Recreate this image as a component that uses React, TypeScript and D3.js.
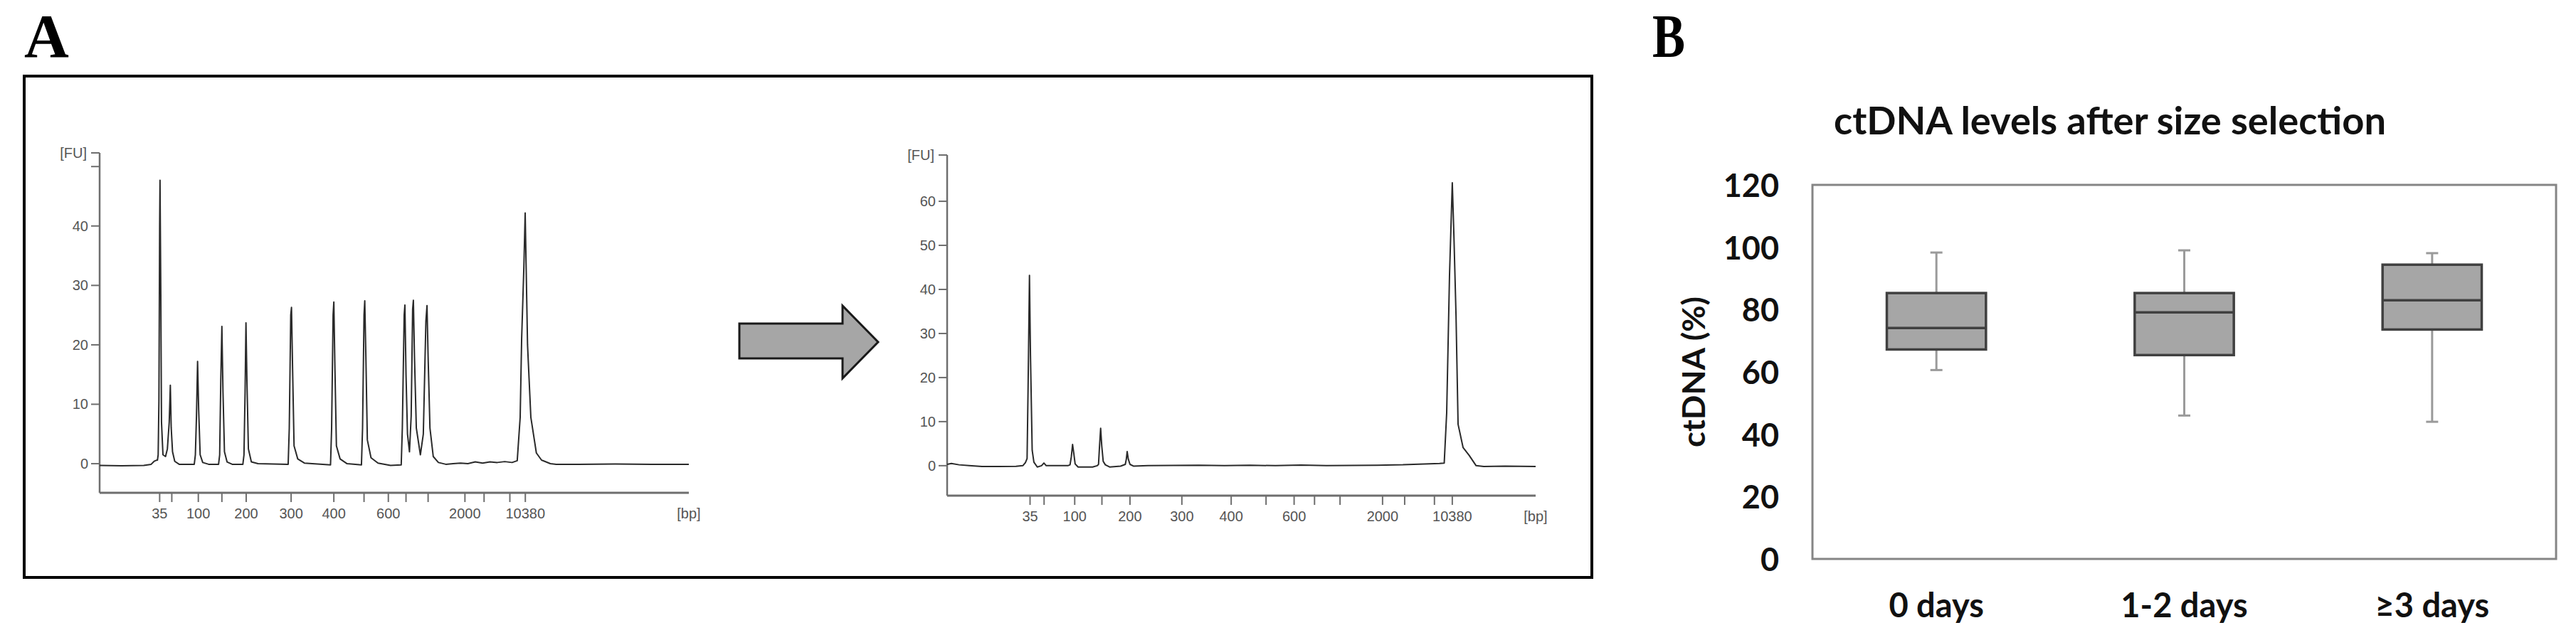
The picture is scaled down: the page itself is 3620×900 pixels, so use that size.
import React from "react";
import * as d3 from "d3";

// ---------- Panel A data (Bioanalyzer electropherograms) ----------
const ladderBp = [35, 50, 100, 150, 200, 300, 400, 500, 600, 700, 1000, 2000, 3000, 7000, 10380];
// migration time (s) of each ladder size
const ladderTime = [48.15, 49.8, 53.4, 56.6, 59.9, 66.0, 71.8, 75.9, 79.2, 81.6, 84.6, 89.6, 92.2, 95.7, 97.8];
const ladderLabels = ["35", "100", "200", "300", "400", "600", "2000", "10380"];

// trace before size selection: [time s, FU]
const beforeTrace: [number, number][] = [
  [40, -0.3], [43, -0.35], [46, -0.3], [47.0, -0.1], [47.4, 0.4], [47.75, 0.6], [47.85, 0.6],
  [47.95, 1.5], [48.05, 10.5], [48.15, 40], [48.2, 47.7], [48.3, 30], [48.4, 7], [48.6, 1.5], [48.95, 1.2],
  [49.2, 2.5], [49.45, 7], [49.6, 13.2], [49.72, 6], [49.9, 2], [50.2, 0.4], [50.8, -0.1],
  [52.85, -0.1], [53.0, 1.5], [53.15, 8], [53.3, 17.2], [53.45, 9], [53.65, 1.5], [54.0, 0.2], [54.8, -0.1],
  [56.15, -0.1], [56.3, 1.5], [56.45, 14], [56.6, 23.1], [56.75, 12], [56.95, 2], [57.3, 0.3], [58.0, -0.1],
  [59.45, -0.1], [59.6, 1.5], [59.75, 12], [59.87, 23.7], [60.0, 14], [60.2, 2.5], [60.6, 0.3], [61.5, 0],
  [65.6, -0.1], [65.75, 6], [65.95, 25], [66.05, 26.3], [66.2, 16], [66.4, 3], [66.9, 0.8], [67.8, 0.1],
  [71.35, -0.2], [71.5, 6], [71.7, 25], [71.8, 27.2], [71.95, 16], [72.15, 3], [72.65, 0.8], [73.6, 0],
  [75.55, -0.2], [75.7, 6], [75.9, 25], [76.0, 27.4], [76.15, 18], [76.35, 4], [76.85, 1], [77.8, 0.1], [79.5, -0.3],
  [80.95, -0.2], [81.1, 6], [81.35, 25], [81.45, 26.7], [81.6, 15], [81.8, 5], [82.07, 2.0],
  [82.3, 8], [82.5, 26], [82.6, 27.5], [82.75, 18], [83.0, 6], [83.55, 1.5],
  [83.95, 5], [84.3, 24], [84.45, 26.6], [84.6, 18], [84.85, 6], [85.3, 1.2], [86.0, 0.2], [87, -0.1],
  [88, 0], [89, 0.1], [90, 0.0], [91, 0.3], [92, 0.1], [93, 0.3], [94, 0.2], [95, 0.35], [96.0, 0.2], [96.7, 0.5],
  [97.1, 7.8], [97.3, 21], [97.6, 33], [97.78, 42.2], [98.1, 20], [98.55, 7.8], [99.3, 1.8], [100.0, 0.6],
  [101.2, 0.0], [102, -0.1], [105, -0.1], [110, -0.05], [115, -0.1], [120, -0.1],
];

// trace after size selection: [time s, FU]
const afterTrace: [number, number][] = [
  [38.4, 0.3], [38.9, 0.5], [39.8, 0.2], [41.0, 0.0], [42.5, -0.2], [44.5, -0.2], [46.5, -0.15], [47.3, 0.0], [47.6, 0.7],
  [47.8, 1.6], [47.93, 19.5], [48.08, 43.2], [48.2, 25], [48.4, 3.5], [48.6, 0.8], [49.0, -0.3],
  [49.5, 0], [49.78, 0.6], [50.05, 0], [51.5, 0], [52.6, 0],
  [52.85, 0.2], [53.0, 2], [53.15, 4.8], [53.28, 3], [53.45, 0.4], [53.8, -0.3], [55.5, -0.3], [56.05, 0],
  [56.2, 0.3], [56.32, 4.5], [56.45, 8.5], [56.58, 4.5], [56.75, 1], [57.0, 0.2], [57.5, -0.3], [58.8, -0.1],
  [59.35, 0.3], [59.47, 1.5], [59.57, 3.2], [59.7, 1.5], [59.9, 0.3], [60.3, -0.1],
  [62, 0], [65, 0.05], [68, 0.1], [71, 0.0], [74, 0.1], [77, 0.0], [80, 0.15], [83, 0.0], [86, 0.05],
  [89, 0.1], [92, 0.2], [94.5, 0.4], [96.3, 0.5], [96.85, 0.6],
  [97.14, 12], [97.47, 43], [97.8, 64.2], [98.0, 51.5], [98.24, 34], [98.48, 9.4], [99.07, 4.1], [99.8, 2.3],
  [100.6, 0], [101.5, -0.2], [104, -0.1], [107.6, -0.2],
];

const beforeYTicks = [0, 10, 20, 30, 40];
const beforeMinorYTicks = [50];
const afterYTicks = [0, 10, 20, 30, 40, 50, 60];

// ---------- Panel B data (box plot) ----------
const groups = ["0 days", "1-2 days", "\u22653 days"];
const whiskerLow = [60.6, 46.0, 44.0];
const q1 = [67.2, 65.4, 73.6];
const median = [74.1, 79.1, 83.0];
const q3 = [85.3, 85.3, 94.4];
const whiskerHigh = [98.3, 99.0, 98.1];
const boxYTicks = [0, 20, 40, 60, 80, 100, 120];

const AXIS = "#6e6e6e";
const TICKTXT = "#555";
const SMALLFONT = "'Liberation Sans', Arial, sans-serif";
const BFONT = "Lato, 'Open Sans', sans-serif";

type EProps = {
  trace: [number, number][];
  tDomain: [number, number];
  xRange: [number, number];
  yDomain: [number, number];
  yRange: [number, number];
  yTicks: number[];
  minorTicks: number[];
};

function Electropherogram({ trace, tDomain, xRange, yDomain, yRange, yTicks, minorTicks }: EProps) {
  const x = d3.scaleLinear().domain(tDomain).range(xRange);
  const y = d3.scaleLinear().domain(yDomain).range(yRange);
  const line = d3
    .line<[number, number]>()
    .x((d) => x(d[0]))
    .y((d) => y(d[1]));
  const x0 = xRange[0];
  const axisY = yRange[0];
  const topY = yRange[1];
  const labelIdx = ladderBp.map((b) => ladderLabels.includes(String(b)));
  return (
    <g>
      {/* y axis */}
      <line x1={x0} x2={x0} y1={topY} y2={axisY} stroke={AXIS} strokeWidth={2.5} />
      {/* x axis */}
      <line x1={x0} x2={xRange[1]} y1={axisY} y2={axisY} stroke={AXIS} strokeWidth={3} />
      {/* top tick with [FU] */}
      <line x1={x0 - 12} x2={x0} y1={topY} y2={topY} stroke={AXIS} strokeWidth={2} />
      <text x={x0 - 18} y={topY} textAnchor="end" dominantBaseline="central" fontFamily={SMALLFONT} fontSize={20} fill={TICKTXT}>
        [FU]
      </text>
      {minorTicks.map((v) => (
        <line key={"m" + v} x1={x0 - 12} x2={x0} y1={y(v)} y2={y(v)} stroke={AXIS} strokeWidth={2} />
      ))}
      {yTicks.map((v) => (
        <g key={v}>
          <line x1={x0 - 12} x2={x0} y1={y(v)} y2={y(v)} stroke={AXIS} strokeWidth={2} />
          <text x={x0 - 16} y={y(v)} textAnchor="end" dominantBaseline="central" fontFamily={SMALLFONT} fontSize={20} fill={TICKTXT}>
            {v}
          </text>
        </g>
      ))}
      {ladderTime.map((t, i) => (
        <g key={"x" + i}>
          <line x1={x(t)} x2={x(t)} y1={axisY} y2={axisY + 13} stroke={AXIS} strokeWidth={2} />
          {labelIdx[i] && (
            <text x={x(t)} y={axisY + 29} textAnchor="middle" dominantBaseline="central" fontFamily={SMALLFONT} fontSize={20} fill={TICKTXT}>
              {ladderBp[i]}
            </text>
          )}
        </g>
      ))}
      <text x={xRange[1]} y={axisY + 29} textAnchor="middle" dominantBaseline="central" fontFamily={SMALLFONT} fontSize={20} fill={TICKTXT}>
        [bp]
      </text>
      <path d={line(trace) || ""} fill="none" stroke="#2a2a2a" strokeWidth={2} strokeLinejoin="round" />
    </g>
  );
}

function BoxPlot() {
  const left = 2547;
  const right = 3592;
  const top = 260;
  const bottom = 786;
  const x = d3.scaleBand<string>().domain(groups).range([left, right]).padding(0);
  const y = d3.scaleLinear().domain([0, 120]).range([bottom, top]);
  const bw = x.bandwidth() * 0.4;
  const capW = 17;
  return (
    <g>
      <text x={2965} y={189} textAnchor="middle" fontFamily={BFONT} fontWeight={700} fontSize={53} fill="#111" textLength={776} lengthAdjust="spacingAndGlyphs">
        ctDNA levels after size selection
      </text>
      <rect x={left} y={top} width={right - left} height={bottom - top} fill="none" stroke="#858585" strokeWidth={3} />
      {boxYTicks.map((v) => (
        <text key={v} x={2500} y={y(v)} textAnchor="end" dominantBaseline="central" fontFamily={BFONT} fontWeight={700} fontSize={45} fill="#111">
          {v}
        </text>
      ))}
      <text
        transform={`translate(2396,${(top + bottom) / 2}) rotate(-90)`}
        textAnchor="middle"
        fontFamily={BFONT}
        fontWeight={700}
        fontSize={44}
        fill="#111"
        textLength={212}
        lengthAdjust="spacingAndGlyphs"
      >
        ctDNA (%)
      </text>
      {groups.map((g, i) => {
        const cx = (x(g) as number) + x.bandwidth() / 2;
        return (
          <g key={g}>
            <line x1={cx} x2={cx} y1={y(whiskerHigh[i])} y2={y(q3[i])} stroke="#9a9a9a" strokeWidth={3} />
            <line x1={cx} x2={cx} y1={y(q1[i])} y2={y(whiskerLow[i])} stroke="#9a9a9a" strokeWidth={3} />
            <line x1={cx - capW / 2} x2={cx + capW / 2} y1={y(whiskerHigh[i])} y2={y(whiskerHigh[i])} stroke="#9a9a9a" strokeWidth={3} />
            <line x1={cx - capW / 2} x2={cx + capW / 2} y1={y(whiskerLow[i])} y2={y(whiskerLow[i])} stroke="#9a9a9a" strokeWidth={3} />
            <rect x={cx - bw / 2} y={y(q3[i])} width={bw} height={y(q1[i]) - y(q3[i])} fill="#a6a6a6" stroke="#404040" strokeWidth={3.5} />
            <line x1={cx - bw / 2} x2={cx + bw / 2} y1={y(median[i])} y2={y(median[i])} stroke="#404040" strokeWidth={3.5} />
            <text x={cx} y={868} textAnchor="middle" fontFamily={BFONT} fontWeight={700} fontSize={47} fill="#111">
              {g}
            </text>
          </g>
        );
      })}
    </g>
  );
}

export default function App() {
  return (
    <svg
      width={3620}
      height={900}
      viewBox="0 0 3620 900"
      style={{ position: "absolute", left: 0, top: 0, background: "#fff" }}
    >
      <rect x={0} y={0} width={3620} height={900} fill="#fff" />
      {/* panel letters */}
      <text x={34} y={80} fontFamily="'Liberation Serif', 'Times New Roman', serif" fontWeight={700} fontSize={87} fill="#000">
        A
      </text>
      <text x={2322} y={80} fontFamily="'Liberation Serif', 'Times New Roman', serif" fontWeight={700} fontSize={87} fill="#000" textLength={46} lengthAdjust="spacingAndGlyphs">
        B
      </text>
      {/* panel A frame */}
      <rect x={34} y={107} width={2203} height={705} fill="none" stroke="#000" strokeWidth={4} />
      <Electropherogram
        trace={beforeTrace}
        tDomain={[40, 120]}
        xRange={[140, 968]}
        yDomain={[-4.9, 52.3]}
        yRange={[693, 215]}
        yTicks={beforeYTicks}
        minorTicks={beforeMinorYTicks}
      />
      {/* arrow */}
      <polygon
        points="1039,455 1184,455 1184,430 1234,481 1184,532 1184,504 1039,504"
        fill="#a6a6a6"
        stroke="#1a1a1a"
        strokeWidth={3}
        strokeLinejoin="miter"
      />
      <Electropherogram
        trace={afterTrace}
        tDomain={[38.4, 107.6]}
        xRange={[1331, 2158]}
        yDomain={[-6.8, 70.5]}
        yRange={[697, 218]}
        yTicks={afterYTicks}
        minorTicks={[]}
      />
      <BoxPlot />
    </svg>
  );
}
